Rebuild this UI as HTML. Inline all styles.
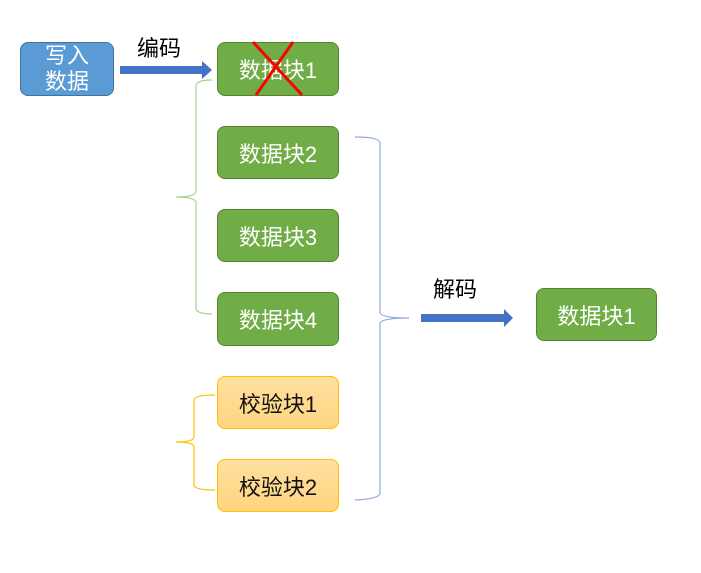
<!DOCTYPE html>
<html><head><meta charset="utf-8"><style>
body{margin:0;width:701px;height:573px;background:#fff;position:relative;overflow:hidden;font-family:"Liberation Sans","Noto Sans CJK SC",sans-serif}
.b{position:absolute;box-sizing:border-box;border-radius:8px;display:flex;align-items:center;justify-content:center;font-size:22px;color:#fff}
.g{background:#70ad47;border:1px solid #548235}
.y{background:linear-gradient(#ffe0a0,#ffd47f);border:1px solid #ffc000;color:#111}
.t{position:absolute;font-size:22px;color:#000}
</style></head><body>
<div class="b" style="left:20px;top:42px;width:94px;height:54px;background:#5b9bd5;border:1px solid #41719c;line-height:26px;text-align:center">写入<br>数据</div>
<div class="b g" style="left:217px;top:42px;width:122px;height:54px">数据块1</div>
<div class="b g" style="left:217px;top:126px;width:122px;height:53px">数据块2</div>
<div class="b g" style="left:217px;top:209px;width:122px;height:53px">数据块3</div>
<div class="b g" style="left:217px;top:292px;width:122px;height:54px">数据块4</div>
<div class="b y" style="left:217px;top:376px;width:122px;height:53px">校验块1</div>
<div class="b y" style="left:217px;top:459px;width:122px;height:53px">校验块2</div>
<div class="b g" style="left:536px;top:288px;width:121px;height:53px">数据块1</div>
<div class="t" style="left:137px;top:31px">编码</div>
<div class="t" style="left:433px;top:272px">解码</div>
<svg width="701" height="573" style="position:absolute;left:0;top:0">
<polygon points="120,66 202,66 202,61 212,70 202,79 202,74 120,74" fill="#4472c4"/>
<polygon points="421,314 504,314 504,309 513,318 504,327 504,322 421,322" fill="#4472c4"/>
<line x1="253" y1="42" x2="302" y2="95" stroke="#f00" stroke-width="3"/>
<line x1="293" y1="42" x2="256" y2="95" stroke="#f00" stroke-width="3"/>
<path d="M212,80 Q196,80 196,86 L196,191 Q196,197 176,197 Q196,197 196,203 L196,308 Q196,314 212,314" fill="none" stroke="#a9d18e" stroke-width="1.2"/>
<path d="M215,395 Q194,395 194,400 L194,437 Q194,442 176,442 Q194,442 194,447 L194,485 Q194,490 215,490" fill="none" stroke="#ffc000" stroke-width="1.2"/>
<path d="M355,137 Q380,137 380,143 L380,312 Q380,318 409,318 Q380,318 380,324 L380,493 Q380,499 355,500" fill="none" stroke="#8faadc" stroke-width="1.2"/>
</svg>
</body></html>
